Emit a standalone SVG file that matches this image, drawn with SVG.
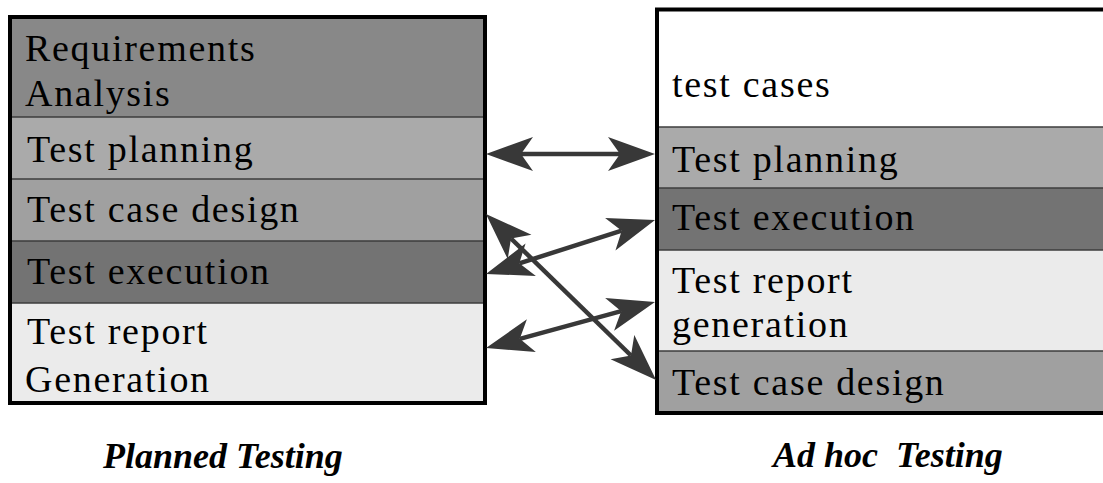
<svg xmlns="http://www.w3.org/2000/svg" width="1103" height="483" viewBox="0 0 1103 483">
  <style>
    .band-sep { stroke: #3c3c3c; stroke-width: 1.5; }
    .frame { fill: none; stroke: #000; stroke-width: 4; }
    .lbl { font-family: "Liberation Serif", "Times New Roman", serif; font-size: 38px; letter-spacing: 1.7px; fill: #000; }
    .caption { font-family: "Liberation Serif", "Times New Roman", serif; font-size: 36px; font-weight: bold; font-style: italic; fill: #000; white-space: pre; }
    .link { stroke: #383838; stroke-width: 4.5; fill: none; marker-start: url(#head); marker-end: url(#head); }
  </style>
  <defs>
    <!-- concave double-ended arrowhead; reference point sits at the notch -->
    <marker id="head" markerUnits="userSpaceOnUse" viewBox="0 -18 48 36" refX="12" refY="0" markerWidth="48" markerHeight="36" orient="auto-start-reverse">
      <path d="M0,-17 L47,0 L0,17 L12,0 Z" fill="#383838"/>
    </marker>
  </defs>

  <rect width="1103" height="483" fill="#fff"/>

  <!-- Planned testing stack -->
  <g id="planned">
    <g id="p-requirements">
      <rect x="10" y="17" width="475" height="100" fill="#888888"/>
      <text class="lbl" x="25" y="61">Requirements</text>
      <text class="lbl" x="25" y="106">Analysis</text>
    </g>
    <g id="p-planning">
      <rect x="10" y="117" width="475" height="62" fill="#aaaaaa"/>
      <text class="lbl" x="27" y="162">Test planning</text>
    </g>
    <g id="p-design">
      <rect x="10" y="179" width="475" height="62" fill="#a0a0a0"/>
      <text class="lbl" x="27" y="222">Test case design</text>
    </g>
    <g id="p-execution">
      <rect x="10" y="241" width="475" height="62" fill="#737373"/>
      <text class="lbl" x="27" y="284">Test execution</text>
    </g>
    <g id="p-report">
      <rect x="10" y="303" width="475" height="100" fill="#ebebeb"/>
      <text class="lbl" x="27" y="344">Test report</text>
      <text class="lbl" x="25" y="392">Generation</text>
    </g>
    <line class="band-sep" x1="10" y1="117" x2="485" y2="117"/>
    <line class="band-sep" x1="10" y1="179" x2="485" y2="179"/>
    <line class="band-sep" x1="10" y1="241" x2="485" y2="241"/>
    <line class="band-sep" x1="10" y1="303" x2="485" y2="303"/>
    <rect class="frame" x="10" y="17" width="475" height="386"/>
  </g>

  <!-- Ad hoc testing stack (runs past the right edge) -->
  <g id="adhoc">
    <g id="a-testcases">
      <rect x="657" y="10" width="460" height="117" fill="#ffffff"/>
      <text class="lbl" x="672" y="97">test cases</text>
    </g>
    <g id="a-planning">
      <rect x="657" y="127" width="460" height="61" fill="#aaaaaa"/>
      <text class="lbl" x="672" y="172">Test planning</text>
    </g>
    <g id="a-execution">
      <rect x="657" y="188" width="460" height="62" fill="#737373"/>
      <text class="lbl" x="672" y="230">Test execution</text>
    </g>
    <g id="a-report">
      <rect x="657" y="250" width="460" height="101" fill="#ebebeb"/>
      <text class="lbl" x="672" y="293">Test report</text>
      <text class="lbl" x="672" y="337">generation</text>
    </g>
    <g id="a-design">
      <rect x="657" y="351" width="460" height="61" fill="#a0a0a0"/>
      <text class="lbl" x="672" y="395">Test case design</text>
    </g>
    <line class="band-sep" x1="657" y1="127" x2="1110" y2="127"/>
    <line class="band-sep" x1="657" y1="188" x2="1110" y2="188"/>
    <line class="band-sep" x1="657" y1="250" x2="1110" y2="250"/>
    <line class="band-sep" x1="657" y1="351" x2="1110" y2="351"/>
    <rect class="frame" x="657" y="9.5" width="470" height="403.5" stroke-width="3.5"/>
  </g>

  <!-- Connectors between matching phases -->
  <g id="connectors">
    <line class="link" x1="521" y1="154" x2="620" y2="154"/>
    <line class="link" x1="511" y1="238.5" x2="631" y2="355.5"/>
    <line class="link" x1="519.3" y1="263.35" x2="621.7" y2="230.65"/>
    <line class="link" x1="519.8" y1="338.8" x2="621.2" y2="311.2"/>
  </g>

  <!-- Captions -->
  <text class="caption" x="103" y="468">Planned Testing</text>
  <text class="caption" x="773" y="467">Ad hoc  Testing</text>
</svg>
